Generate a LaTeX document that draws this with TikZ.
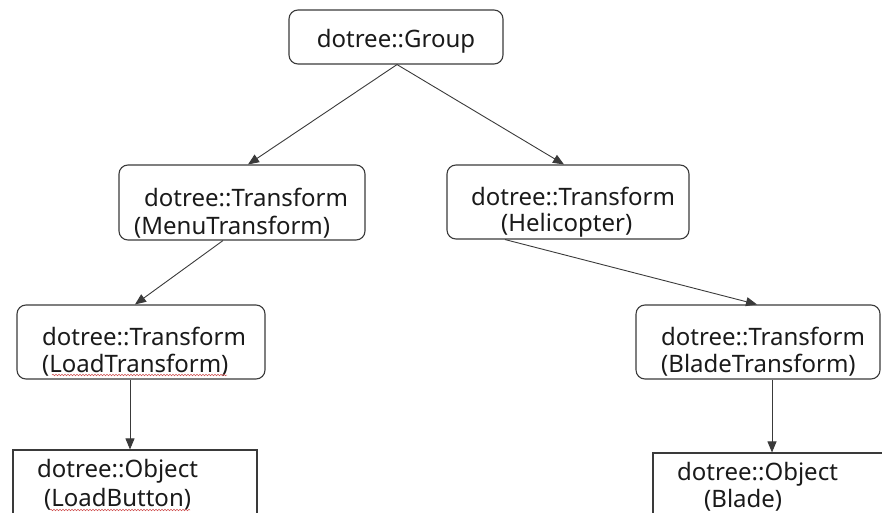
\documentclass[tikz,border=0pt]{standalone}
\usepackage{fontspec}
\setmainfont{Noto Sans}
\usetikzlibrary{arrows.meta,decorations.pathmorphing}
\definecolor{ink}{HTML}{1A1A1A}
\definecolor{edge}{HTML}{3A3A3A}
\definecolor{spell}{HTML}{D05050}
\tikzset{
  rbox/.style={draw=edge, line width=1.1pt, rounded corners=9pt, inner sep=0pt},
  sbox/.style={draw=edge, line width=1.1pt, inner sep=0pt},
  lbl/.style={anchor=base west, inner sep=0pt, text=ink, font=\fontsize{24}{28}\selectfont},
  link/.style={draw=edge, line width=0.9pt, -{Triangle[length=11pt,width=9pt]}},
  squiggle/.style={draw=spell, line width=0.5pt, decorate,
    decoration={snake, amplitude=0.8pt, segment length=3pt}}
}
\begin{document}
\begin{tikzpicture}[x=1pt, y=-1pt]
\useasboundingbox (0,0) rectangle (882,513);
\clip (0,0) rectangle (882,513);

% boxes
\node[rbox, minimum width=214pt, minimum height=54pt] (grp) at (396,37) {};
\node[rbox, minimum width=246pt, minimum height=75pt] (menu) at (242,202.5) {};
\node[rbox, minimum width=242pt, minimum height=74pt] (heli) at (568,202) {};
\node[rbox, minimum width=248pt, minimum height=74pt] (load) at (141,342) {};
\node[rbox, minimum width=244pt, minimum height=74pt] (bladet) at (758,342) {};
\node[sbox, minimum width=244pt, minimum height=80pt] (lbtn) at (135,490) {};
\node[sbox, minimum width=260pt, minimum height=80pt] (blade) at (783,493) {};

% labels
\node[lbl, anchor=base] (grpT) at (396,48) {dotree::Group};
\node[lbl] (menuA) at (144,206) {dotree::Transform};
\node[lbl] (menuB) at (134,234) {(MenuTransform)};
\node[lbl] (heliA) at (471,205) {dotree::Transform};
\node[lbl] (heliB) at (501,231) {(Helicopter)};
\node[lbl] (loadA) at (42,345) {dotree::Transform};
\node[lbl] (loadB) at (42,372) {(LoadTransform)};
\node[lbl] (bladetA) at (661,345) {dotree::Transform};
\node[lbl] (bladetB) at (661,372) {(BladeTransform)};
\node[lbl] (lbtnA) at (37,477) {dotree::Object};
\node[lbl] (lbtnB) at (44,506) {(LoadButton)};
\node[lbl] (bladeA) at (677,480) {dotree::Object};
\node[lbl] (bladeB) at (704,507) {(Blade)};

% spell-check underlines
\coordinate (u1a) at (52,375); \coordinate (u1b) at (227,375);
\coordinate (u2a) at (50,510); \coordinate (u2b) at (190,510);
\path[squiggle] (u1a) -- (u1b);
\path[squiggle] (u2a) -- (u2b);

% connectors
\draw[link] ([xshift=1pt]grp.south) -- ([xshift=6pt]menu.north);
\draw[link] ([xshift=1pt]grp.south) -- ([xshift=-4pt]heli.north);
\draw[link] ([xshift=-19pt]menu.south) -- ([xshift=-6pt]load.north);
\draw[link] ([xshift=-63pt]heli.south) -- ([xshift=-1pt]bladet.north);
\draw[link] ([xshift=-11pt]load.south) -- ([xshift=-11pt]load.south |- lbtn.north);
\draw[link] ([xshift=14pt]bladet.south) -- ([xshift=14pt]bladet.south |- blade.north);
\end{tikzpicture}
\end{document}
